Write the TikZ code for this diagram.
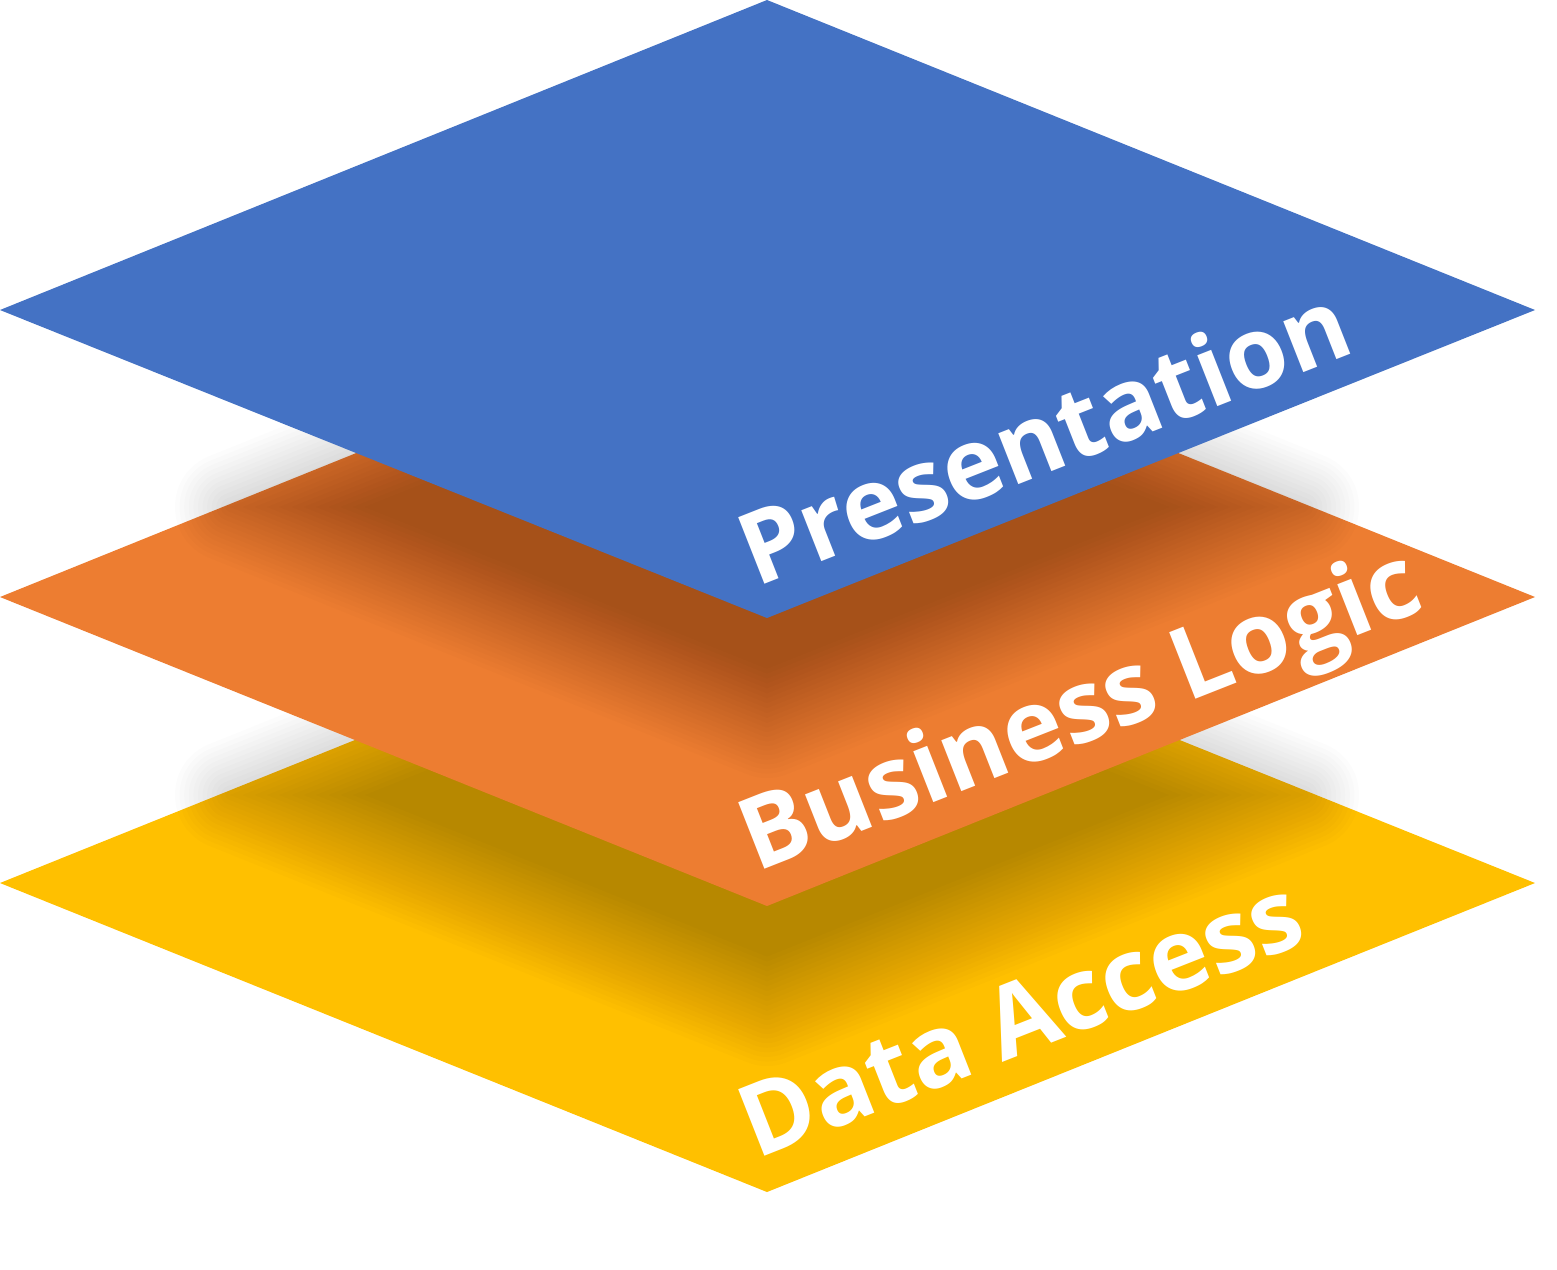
\documentclass[tikz,border=0pt]{standalone}
\usepackage{fontspec}
\newfontfamily\labelfont{Open Sans}
\definecolor{layerblue}{HTML}{4472C4}
\definecolor{layerorange}{HTML}{ED7D31}
\definecolor{layeryellow}{HTML}{FFC000}
% soft drop shadow under a layer, centred at height #1:
% rounded outward offsets (each in its own group) and shrunken inner copies,
% all faint, stacked so the edge fades out smoothly
\newcommand\softshadow[1]{%
  \foreach \j in {0,...,11}{%
    \pgfmathsetmacro\w{2.2*(1-\j/12)}%
    \begin{scope}[transparency group, opacity=0.011]
      \filldraw[black, line width=\w cm, line join=round, shift={(767,#1)}]
        (-537,0) -- (0,-216) -- (537,0) -- (0,216) -- cycle;
    \end{scope}
  }%
  \foreach \k in {0,...,11}{%
    \pgfmathsetmacro\s{1-0.2745*\k/12}%
    \fill[black, opacity=0.011, shift={(767,#1)}, scale=\s]
      (-537,0) -- (0,-216) -- (537,0) -- (0,216) -- cycle;
  }}
\begin{document}
\begin{tikzpicture}[x=0.02cm,y=-0.02cm,
  layerlabel/.style={anchor=base west, inner sep=0pt, text=white, rotate=21.5,
    font=\labelfont\bfseries\fontsize{57}{60}\selectfont}]
\useasboundingbox (0,0) rectangle (1557,1269);
\fill[white] (0,0) rectangle (1557,1269);

% bottom layer
\fill[layeryellow] (0,883) -- (767,574) -- (1535,883) -- (767,1192) -- cycle;
\softshadow{795}
% middle layer
\fill[layerorange] (0,597) -- (767,287) -- (1535,597) -- (767,906) -- cycle;
\softshadow{507}
% top layer
\fill[layerblue] (0,310) -- (767,0) -- (1535,310) -- (767,618) -- cycle;

\node[layerlabel] (pres) at (756,588) {Presentation};
\node[layerlabel] (logic) at (756,873) {Business Logic};
\node[layerlabel] (data) at (756,1160) {Data Access};
\end{tikzpicture}
\end{document}
